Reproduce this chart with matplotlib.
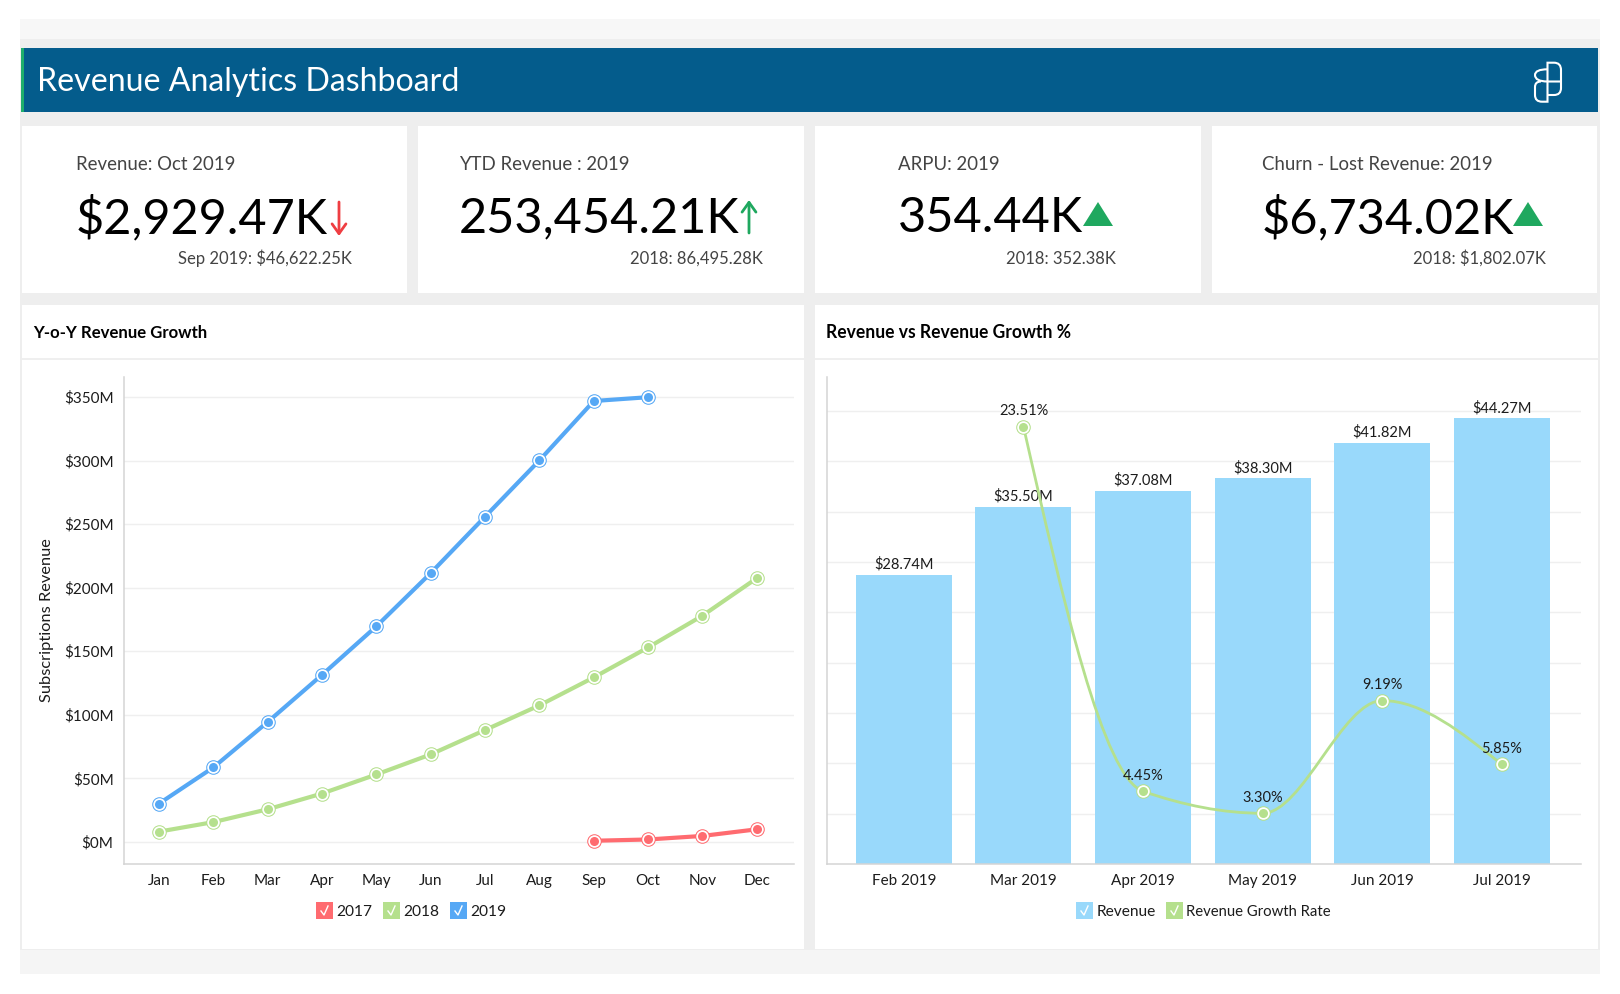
import numpy as np
import matplotlib
matplotlib.use("Agg")
import matplotlib.pyplot as plt
import matplotlib.patches as patches
from matplotlib.path import Path

plt.rcParams['font.family'] = ['Lato', 'DejaVu Sans']

# --- data ---
months = ["Jan", "Feb", "Mar", "Apr", "May", "Jun", "Jul", "Aug", "Sep", "Oct", "Nov", "Dec"]
rev_2019 = [30.1, 58.6, 94.4, 131.5, 169.7, 211.6, 256, 300.3, 347, 350]
rev_2018 = [8, 15.5, 25.6, 38, 53, 68.8, 88, 107.4, 129.4, 153, 178, 207.5]
rev_2017 = [0.8, 1.8, 4.6, 9.8]
rev_2017_start = 8  # Sep

bar_months = ["Feb 2019", "Mar 2019", "Apr 2019", "May 2019", "Jun 2019", "Jul 2019"]
bar_revenue = [28.74, 35.50, 37.08, 38.30, 41.82, 44.27]
growth_months = [1, 2, 3, 4, 5]
growth_rate = [23.51, 4.45, 3.30, 9.19, 5.85]

kpi_titles = ["Revenue: Oct 2019", "YTD Revenue : 2019", "ARPU: 2019", "Churn - Lost Revenue: 2019"]
kpi_values = ["$2,929.47K", "253,454.21K", "354.44K", "$6,734.02K"]
kpi_subs = ["Sep 2019: $46,622.25K", "2018: 86,495.28K", "2018: 352.38K", "2018: $1,802.07K"]

RED = "#ff6b70"
GREEN = "#b5e08d"
BLUE = "#56a8f5"
SKY = "#99d9fb"
DARK = "#1c1c1c"
W, H = 1620, 994

fig = plt.figure(figsize=(W / 100, H / 100), dpi=100, facecolor="white")

# page layer in pixel coords
bg = fig.add_axes([0, 0, 1, 1], zorder=0)
bg.set_xlim(0, W)
bg.set_ylim(H, 0)
bg.axis('off')


def rect(x0, y0, x1, y1, color, z=1, ax=bg):
    ax.add_patch(patches.Rectangle((x0, y0), x1 - x0, y1 - y0, facecolor=color, edgecolor="none", zorder=z))


rect(20, 19, 1600, 974, "#eeeeee")
rect(20, 19, 1600, 39, "#f7f7f7")
rect(20, 950, 1600, 974, "#f5f5f5")
rect(21, 48, 1598, 112, "#045c8c", 2)
rect(21, 48, 24, 112, "#1fae6c", 3)
bg.text(37, 82, "Revenue Analytics Dashboard", color="white", fontsize=23.1, va='center', ha='left', zorder=4)

# logo, two interlocked lobes
lw_logo = 1.5
L, M, R = 1535, 1547.5, 1561
logo_a = Path(
    [(M, 81), (M, 62.7), (1554, 62.7), (R, 62.7), (R, 70), (R, 88), (R, 95), (1554, 95), (M, 95)],
    [Path.MOVETO, Path.LINETO, Path.LINETO, Path.CURVE3, Path.CURVE3, Path.LINETO, Path.CURVE3, Path.CURVE3, Path.LINETO])
logo_b = Path(
    [(M, 69.3), (L, 69.3), (L, 75), (L, 81.5), (M, 81.5), (R, 81.5)],
    [Path.MOVETO, Path.CURVE3, Path.CURVE3, Path.CURVE3, Path.CURVE3, Path.LINETO])
logo_c = Path(
    [(M, 81.5), (M, 101.7), (1542, 101.7), (L, 101.7), (L, 95), (L, 87), (L, 81.5), (1541, 81.5)],
    [Path.MOVETO, Path.LINETO, Path.LINETO, Path.CURVE3, Path.CURVE3, Path.LINETO, Path.CURVE3, Path.CURVE3])
for p in (logo_a, logo_b, logo_c):
    bg.add_patch(patches.PathPatch(p, fill=False, edgecolor="white", lw=lw_logo, zorder=4))

# cards
card_x = [(22, 407), (418, 804), (815, 1201), (1212, 1597)]
title_x = [76, 459, 898, 1262]
value_x = [76, 459, 898, 1262]
sub_right = [352, 763, 1116, 1546]
for i, (x0, x1) in enumerate(card_x):
    rect(x0, 126, x1, 293, "white", 2)
    bg.text(title_x[i], 165, kpi_titles[i], color="#444444", fontsize=13.4, va='center', zorder=4)
    bg.text(value_x[i], 218, kpi_values[i], color="black", fontsize=35, va='center', zorder=4)
    bg.text(sub_right[i], 258.5, kpi_subs[i], color="#444444", fontsize=12, va='center', ha='right', zorder=4)

# kpi indicators
bg.annotate("", xy=(339, 236), xytext=(339, 202), zorder=4,
            arrowprops=dict(arrowstyle="->,head_width=0.5,head_length=0.7", color="#ef3e42", lw=2, shrinkA=0, shrinkB=0))
bg.annotate("", xy=(749, 200), xytext=(749, 233), zorder=4,
            arrowprops=dict(arrowstyle="->,head_width=0.5,head_length=0.7", color="#1fa85f", lw=2, shrinkA=0, shrinkB=0))
for cx in (1098, 1528):
    bg.add_patch(patches.Polygon([(cx - 15, 226), (cx + 15, 226), (cx, 202)], facecolor="#1fa85f", edgecolor="none", zorder=4))

# chart panels
for x0, x1 in [(22, 804), (815, 1598)]:
    rect(x0, 305, x1, 949, "white", 2)
    rect(x0, 358, x1, 360, "#efefef", 3)
bg.text(33, 332.5, "Y-o-Y Revenue Growth", color="black", fontsize=12.1, fontweight='bold', va='center', zorder=4)
bg.text(826, 332.5, "Revenue vs Revenue Growth %", color="black", fontsize=12.65, fontweight='bold', va='center', zorder=4)


def px_axes(x0, y0, x1, y1):
    a = fig.add_axes([x0 / W, 1 - y1 / H, (x1 - x0) / W, (y1 - y0) / H], zorder=2)
    a.patch.set_alpha(0)
    return a


def style_axes(a):
    for s in ("top", "right"):
        a.spines[s].set_visible(False)
    for s in ("left", "bottom"):
        a.spines[s].set_color("#d4d4d4")
        a.spines[s].set_linewidth(1.1)
    a.tick_params(axis='both', length=0, labelsize=11, labelcolor=DARK)
    a.grid(axis='y', color="#efefef", lw=1)
    a.set_axisbelow(True)


def ring_markers(a, xs, ys, col):
    # coloured dot, white ring, thin coloured outer ring
    a.plot(xs, ys, ls='none', marker='o', ms=10.5, mfc=col, mec=col, mew=0, zorder=4, clip_on=False)
    a.plot(xs, ys, ls='none', marker='o', ms=9, mfc="white", mec="white", mew=0, zorder=5, clip_on=False)
    a.plot(xs, ys, ls='none', marker='o', ms=6.5, mfc=col, mec=col, mew=0, zorder=6, clip_on=False)


# --- left: yoy line chart ---
ax = px_axes(124, 377, 794, 864)
style_axes(ax)
ax.set_xlim(-0.647, 11.685)
ax.set_ylim(-17.5, 365.9)
ax.set_yticks(range(0, 351, 50))
ax.set_yticklabels([f"${v}M" for v in range(0, 351, 50)])
ax.set_xticks(range(12))
ax.set_xticklabels(months)
ax.tick_params(axis='y', pad=7.5)
ax.tick_params(axis='x', pad=7.5)
ax.set_ylabel("Subscriptions Revenue", fontsize=11.8, color=DARK, labelpad=7)
series = [(range(rev_2017_start, 12), rev_2017, RED),
          (range(len(rev_2018)), rev_2018, GREEN),
          (range(len(rev_2019)), rev_2019, BLUE)]
for xs, ys, col in series:
    ax.plot(xs, ys, color=col, lw=3, zorder=3, solid_capstyle='round')
    ring_markers(ax, xs, ys, col)


# --- right: bars + growth line ---
def monotone_path(x, y):
    # monotone cubic through the points, as bezier segments
    x = np.asarray(x, float)
    y = np.asarray(y, float)
    h = np.diff(x)
    s = np.diff(y) / h
    m = np.zeros(len(x))
    for i in range(1, len(x) - 1):
        if s[i - 1] * s[i] > 0:
            m[i] = 2 * s[i - 1] * s[i] / (s[i - 1] + s[i])
    m[0] = (3 * s[0] - m[1]) / 2
    m[-1] = (3 * s[-1] - m[-2]) / 2
    verts = [(x[0], y[0])]
    codes = [Path.MOVETO]
    for i in range(len(h)):
        verts += [(x[i] + h[i] / 3, y[i] + m[i] * h[i] / 3),
                  (x[i + 1] - h[i] / 3, y[i + 1] - m[i + 1] * h[i] / 3),
                  (x[i + 1], y[i + 1])]
        codes += [Path.CURVE4] * 3
    return Path(verts, codes)


ax2 = px_axes(826.5, 377, 1581, 864)
style_axes(ax2)
ax2.set_xlim(-0.647, 5.662)
ax2.set_ylim(0, 48.36)
ax2.set_yticks(np.arange(5, 46, 5))
ax2.set_yticklabels([])
ax2.set_xticks(range(len(bar_months)))
ax2.set_xticklabels(bar_months)
ax2.tick_params(axis='x', pad=7.5)
ax2.bar(range(len(bar_months)), bar_revenue, width=0.803, color=SKY, zorder=2)
for i, v in enumerate(bar_revenue):
    ax2.text(i, v + 0.3, f"${v:.2f}M", ha='center', va='bottom', fontsize=10.5, color=DARK, zorder=7)

ax3 = ax2.twinx()
ax3.set_ylim(0.65, 26.1)
ax3.axis('off')
ax3.add_patch(patches.PathPatch(monotone_path(growth_months, growth_rate), fill=False, edgecolor=GREEN, lw=2, zorder=3))
ring_markers(ax3, growth_months, growth_rate, GREEN)
for gx, gy in zip(growth_months, growth_rate):
    ax3.annotate(f"{gy:.2f}%", (gx, gy), xytext=(0, 6), textcoords='offset points', ha='center', va='bottom',
                 fontsize=10.5, color=DARK, zorder=7)


# --- legends, drawn by hand because of the checkbox squares ---
def legend_item(x, label, col, size=11.2):
    rect(x, 902, x + 17, 919, col, 4)
    bg.plot([x + 5, x + 8, x + 12], [911, 915, 906], color="white", lw=1, zorder=5)
    bg.text(x + 20.5, 911.5, label, fontsize=size, color=DARK, va='center', zorder=5)


for x, label, col in [(316, "2017", RED), (383, "2018", GREEN), (450, "2019", BLUE)]:
    legend_item(x, label, col)
legend_item(1076, "Revenue", SKY)
legend_item(1166, "Revenue Growth Rate", GREEN, size=10.75)

fig.savefig("out.png", dpi=100)
